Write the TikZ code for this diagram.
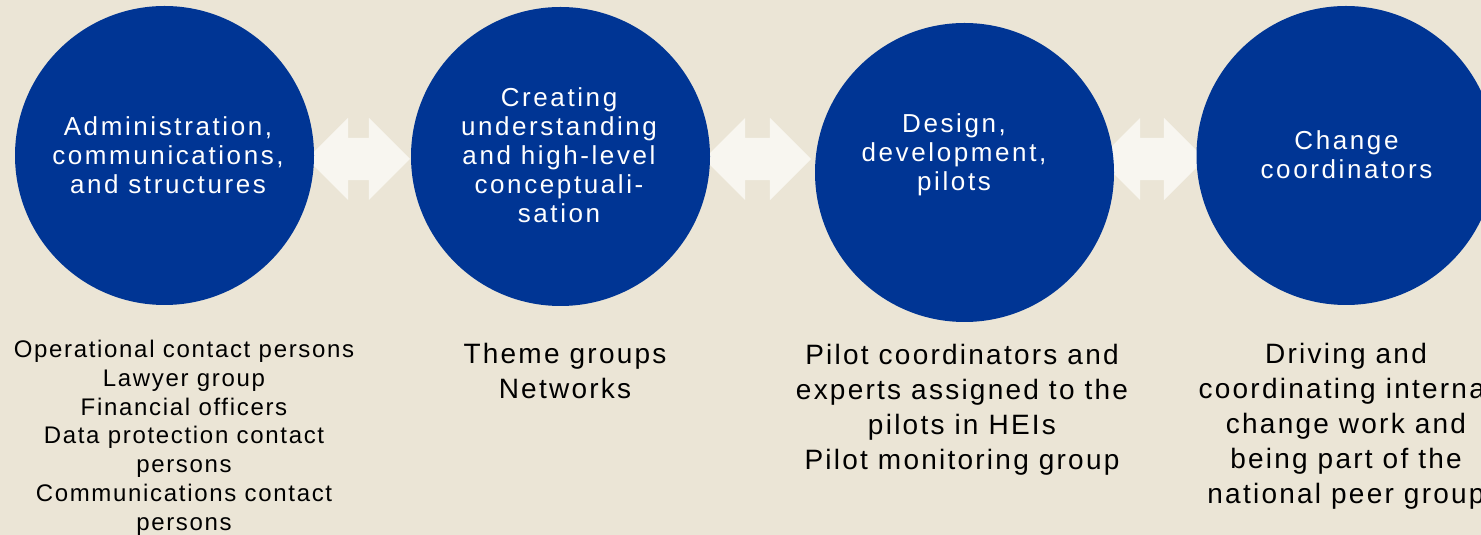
\documentclass[tikz,border=0pt]{standalone}
\usepackage{fontspec}
\setmainfont[LetterSpace=7]{Liberation Sans}
\usetikzlibrary{shapes.arrows}
\definecolor{bgbeige}{HTML}{EBE5D6}
\definecolor{stageblue}{HTML}{003594}
\definecolor{linkwhite}{HTML}{F8F6F0}

\begin{document}
\begin{tikzpicture}[x=1pt,y=1pt,
	stage/.style={circle,fill=stageblue,minimum size=299pt,inner sep=0pt},
	stagetext/.style={text=white,align=center,anchor=north,inner sep=0pt,font=\fontsize{26}{29}\selectfont\addfontfeatures{LetterSpace=10}},
	grouptext/.style={text=black,align=center,anchor=north,inner sep=0pt,font=\fontsize{28}{35}\selectfont\addfontfeatures{LetterSpace=8}},
	link/.style={double arrow,fill=linkwhite,double arrow head extend=20pt,inner xsep=0pt,inner ysep=21pt}]
	\fill[bgbeige] (0,0) rectangle (1481,535);
	\useasboundingbox (0,0) rectangle (1481,535);
	\node[link,minimum height=103pt] (a12) at (358.5,376) {};
	\node[link,minimum height=107pt] (a23) at (757.5,376) {};
	\node[link,minimum height=106pt] (a34) at (1152,376) {};
	\node[stage] (c1) at (164.5,379.5) {};
	\node[stage] (c2) at (560.5,378.5) {};
	\node[stage] (c3) at (964.5,362.5) {};
	\node[stage] (c4) at (1346,379.5) {};
	\node[stagetext] (t1) at (168,419) {Administration,\\communications,\\and structures};
	\node[stagetext] (t2) at (559,447.7) {Creating\\understanding\\and high-level\\conceptuali-\\sation};
	\node[stagetext] (t3) at (954,421.7) {Design,\\development,\\pilots};
	\node[stagetext] (t4) at (1346.5,405) {Change\\coordinators};
	\node[grouptext,font=\fontsize{24}{28.8}\selectfont] (g1) at (184,195) {Operational contact persons\\Lawyer group\\Financial officers\\Data protection contact\\persons\\Communications contact\\persons};
	\node[grouptext] (g2) at (565,192) {Theme groups\\Networks};
	\node[grouptext] (g3) at (962,191) {Pilot coordinators and\\experts assigned to the\\pilots in HEIs\\Pilot monitoring group};
	\node[grouptext] (g4) at (1346,191.7) {Driving and\\coordinating internal\\change work and\\being part of the\\national peer group};
\end{tikzpicture}
\end{document}
